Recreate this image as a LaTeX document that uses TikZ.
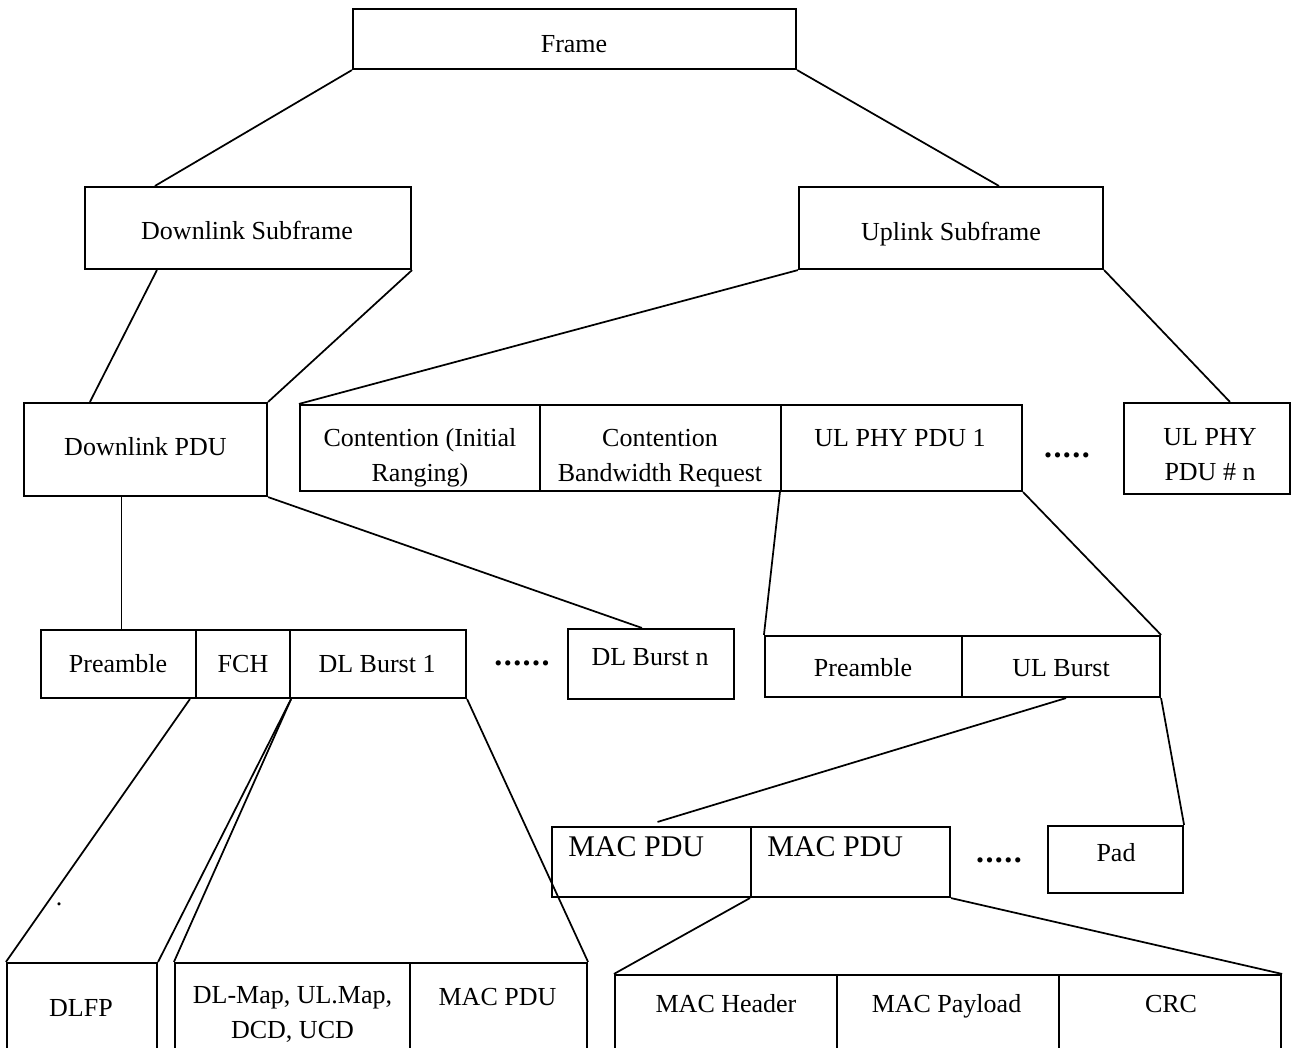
\documentclass[tikz,border=0pt]{standalone}
\usepackage{fontspec}
\setmainfont{Liberation Serif}
\usepackage{tikz}
\usetikzlibrary{calc}

% a row of bold dots, for the "and so on" gaps
\newcommand{\dotrun}[1]{{\fontsize{24}{26}\selectfont\bfseries\foreach \k in {1,...,#1}{.\kern1.1pt}\unkern}}

\begin{document}
\begin{tikzpicture}[x=0.75pt,y=0.75pt,yscale=-1,xscale=1,
  cell/.style 2 args={draw,line width=1.6pt,inner sep=0pt,minimum width=#1*0.75pt,minimum height=#2*0.75pt},
  txt/.style={anchor=base,inner sep=0pt,align=center,font=\fontsize{19.5}{25.8}\selectfont},
  bigtxt/.style={anchor=base west,inner sep=0pt,font=\fontsize{22.5}{27}\selectfont},
  link/.style={line width=1.3pt}]
\useasboundingbox (0,0) rectangle (1301,1047);

%Shape: Rectangle -- top level
\node[cell={443}{60}] (frame) at (574.5,39) {};
%Shape: Rectangle -- subframes
\node[cell={326}{82}] (dlsub) at (248,228) {};
\node[cell={304}{82}] (ulsub) at (951,228) {};

%Shape: Rectangle -- downlink PDU
\node[cell={243}{93}] (dlpdu) at (145.5,449.5) {};
%Shape: Rectangle -- uplink row
\node[cell={240}{86}] (cont1) at (420,448) {};
\node[cell={241}{86}] (cont2) at (660.5,448) {};
\node[cell={241}{86}] (ulphy1) at (901.5,448) {};
\node[cell={166}{91}] (ulphyn) at (1207,448.5) {};

%Shape: Rectangle -- downlink bursts
\node[cell={155}{68}] (dlpre) at (118.5,664) {};
\node[cell={94}{68}] (fch) at (243,664) {};
\node[cell={176}{68}] (dlb1) at (378,664) {};
\node[cell={166}{70}] (dlbn) at (651,664) {};
%Shape: Rectangle -- uplink burst
\node[cell={197}{61}] (ulpre) at (863.5,666.5) {};
\node[cell={198}{61}] (ulburst) at (1061,666.5) {};

%Shape: Rectangle -- MAC PDUs and pad
\node[cell={199}{70}] (mac1) at (651.5,862) {};
\node[cell={199}{70}] (mac2) at (850.5,862) {};
\node[cell={135}{67}] (pad) at (1115.5,859.5) {};

%Shape: Rectangle -- bottom rows, running off the page
\node[cell={150}{117}] (dlfp) at (82,1021.5) {};
\node[cell={235}{117}] (dlmap) at (292.5,1021.5) {};
\node[cell={177}{117}] (dlmac) at (498.5,1021.5) {};
\node[cell={222}{105}] (machdr) at (726,1027.5) {};
\node[cell={222}{105}] (macpay) at (948,1027.5) {};
\node[cell={222}{105}] (crc) at (1170,1027.5) {};

% Straight Lines
\draw[link] (frame.south west) -- ($(dlsub.north west)+(71,0)$);
\draw[link] (frame.south east) -- ($(ulsub.north west)+(201,0)$);
\draw[link] ($(dlsub.south west)+(73,0)$) -- ($(dlpdu.north west)+(67,0)$);
\draw[link] (dlsub.south east) -- (dlpdu.north east);
\draw[link] (ulsub.south west) -- (cont1.north west);
\draw[link] (ulsub.south east) -- ($(ulphyn.north west)+(107,0)$);
\draw[link] (ulphy1.south west) -- (ulpre.north west);
\draw[link] (ulphy1.south east) -- (ulburst.north east);
\draw[link] ($(dlpre.north)+(3,0)$) coordinate (dlstem) -- (dlstem |- dlpdu.south);
\draw[link] (dlpdu.south east) -- ($(dlbn.north west)+(75,0)$);
\draw[link] ($(fch.south west)+(-5,0)$) -- (dlfp.north west);
\draw[link] (fch.south east) -- (dlfp.north east);
\draw[link] (fch.south east) -- (dlmap.north west);
\draw[link] (dlb1.south east) -- (dlmac.north east);
\draw[link] ($(ulburst.south)+(5,0)$) -- ($(mac1.north)+(6,-4)$);
\draw[link] (ulburst.south east) -- (pad.north east);
\draw[link] (mac2.south west) -- (machdr.north west);
\draw[link] (mac2.south east) -- (crc.north east);

% Text Node
\node[txt] (frametxt) at (574,52) {Frame};
\node[txt] (dlsubtxt) at (247,239) {Downlink Subframe};
\node[txt] (ulsubtxt) at (951,240) {Uplink Subframe};
\node[txt] (dlpdutxt) at (145.5,455) {Downlink PDU};
% Text Node (two-line nodes sit on their last line)
\node[txt] (cont1txt) at (420,481) {Contention (Initial\\Ranging)};
\node[txt] (cont2txt) at (660,481) {Contention\\Bandwidth Request};
\node[txt] (ulphy1txt) at (900,446) {UL PHY PDU 1};
\node[txt] (ulmore) at (1067,457) {\dotrun{5}};
\node[txt] (ulphyntxt) at (1210,480) {UL PHY\\PDU \# n};
% Text Node
\node[txt] (dlpretxt) at (118,672) {Preamble};
\node[txt] (fchtxt) at (243,672) {FCH};
\node[txt] (dlb1txt) at (377,672) {DL Burst 1};
\node[txt] (dlmore) at (522,665) {\dotrun{6}};
\node[txt] (dlbntxt) at (650,665) {DL Burst n};
\node[txt] (ulpretxt) at (863,676) {Preamble};
\node[txt] (ulbursttxt) at (1061,676) {UL Burst};
% Text Node
\node[bigtxt] (mac1txt) at (568,856) {MAC PDU};
\node[bigtxt] (mac2txt) at (767,856) {MAC PDU};
\node[txt] (macmore) at (999,862) {\dotrun{5}};
\node[txt] (padtxt) at (1116,861) {Pad};
\node[txt] (stray) at (59,905) {.};
% Text Node
\node[txt] (dlfptxt) at (81,1016) {DLFP};
\node[txt] (dlmaptxt) at (292.5,1038) {DL-Map, UL.Map,\\DCD, UCD};
\node[txt] (dlmactxt) at (497.5,1005) {MAC PDU};
\node[txt] (machdrtxt) at (726,1012) {MAC Header};
\node[txt] (macpaytxt) at (946.5,1012) {MAC Payload};
\node[txt] (crctxt) at (1171,1012) {CRC};
\end{tikzpicture}
\end{document}
